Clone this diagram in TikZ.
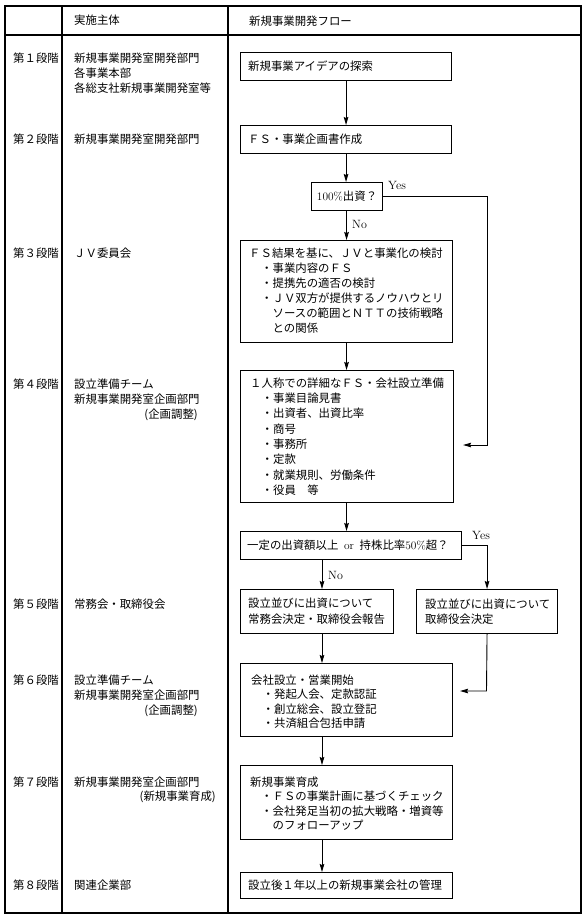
\documentclass[tikz,border=0pt]{standalone}
\usepackage{fontspec}
\newfontfamily\jp{Noto Sans CJK JP}
\usetikzlibrary{arrows.meta}
\begin{document}
\begin{tikzpicture}[x=1pt,y=-1pt,
  every node/.style={font=\jp\fontsize{11.4}{15}\selectfont, inner sep=0pt},
  box/.style={draw, line width=1.1pt, anchor=north west, inner sep=0pt},
  txt/.style={anchor=west},
  rtxt/.style={anchor=east},
  lbl/.style={anchor=west, font=\rmfamily\fontsize{12}{14}\selectfont},
  conn/.style={line width=0.9pt},
  arr/.style={conn, -{Stealth[length=8pt,width=4.6pt,inset=1pt]}},
  gridline/.style={line width=1.3pt}]
\useasboundingbox (0,0) rectangle (587,922);

% table grid
\draw[gridline, line width=1.5pt] (5,6) rectangle (581,913);
\draw[gridline] (5,35) -- (581,35);
\draw[gridline] (62,6) -- (62,913);
\draw[gridline] (228,6) -- (228,913);

% header
\node[txt] (h1) at (74,20) {実施主体};
\node[txt] (h2) at (249,21) {新規事業開発フロー};

% stage column
\node[txt] (s1) at (13,58) {第１段階};
\node[txt] (s2) at (13,139) {第２段階};
\node[txt] (s3) at (13,253) {第３段階};
\node[txt] (s4) at (13,384) {第４段階};
\node[txt] (s5) at (13,604) {第５段階};
\node[txt] (s6) at (13,680) {第６段階};
\node[txt] (s7) at (13,782) {第７段階};
\node[txt] (s8) at (13,885) {第８段階};

% actor column
\node[txt] (a1a) at (74,58) {新規事業開発室開発部門};
\node[txt] (a1b) at (74,73) {各事業本部};
\node[txt] (a1c) at (74,88) {各総支社新規事業開発室等};
\node[txt] (a2) at (74,139) {新規事業開発室開発部門};
\node[txt] (a3) at (74,253) {ＪＶ委員会};
\node[txt] (a4a) at (74,384) {設立準備チーム};
\node[txt] (a4b) at (74,399.5) {新規事業開発室企画部門};
\node[rtxt] (a4c) at (198,415) {(企画調整)};
\node[txt] (a5) at (74,604) {常務会・取締役会};
\node[txt] (a6a) at (74,680) {設立準備チーム};
\node[txt] (a6b) at (74,695.5) {新規事業開発室企画部門};
\node[rtxt] (a6c) at (198,711) {(企画調整)};
\node[txt] (a7a) at (74,782) {新規事業開発室企画部門};
\node[rtxt] (a7b) at (216,797) {(新規事業育成)};
\node[txt] (a8) at (74,885) {関連企業部};

% flow boxes (frames)
\node[box, minimum width=211pt, minimum height=28pt] (b1) at (240,52) {};
\node[box, minimum width=211pt, minimum height=28pt] (b2) at (240,125) {};
\node[box, minimum width=71pt, minimum height=28pt] (d1) at (311,182) {};
\node[box, minimum width=212pt, minimum height=102pt] (b3) at (240,240) {};
\node[box, minimum width=213pt, minimum height=132pt] (b4) at (240,370) {};
\node[box, minimum width=221pt, minimum height=28pt] (d2) at (240,531) {};
\node[box, minimum width=153pt, minimum height=44pt] (b5a) at (240,589) {};
\node[box, minimum width=141pt, minimum height=44pt] (b5b) at (416,589) {};
\node[box, minimum width=212pt, minimum height=73pt] (b6) at (240,663) {};
\node[box, minimum width=212pt, minimum height=74pt] (b7) at (240,765) {};
\node[box, minimum width=212pt, minimum height=26pt] (b8) at (240,872) {};

% flow box texts
\node[txt] (t1) at (248,66) {新規事業アイデアの探索};
\node[txt] (t2) at (248,139) {ＦＳ・事業企画書作成};
\node[anchor=center] (td1) at (d1.center) {{\rmfamily 100\%}出資？};
\node[txt] (t3a) at (249,253) {ＦＳ結果を基に、ＪＶと事業化の検討};
\node[txt] (t3b) at (261,268) {・事業内容のＦＳ};
\node[txt] (t3c) at (261,283) {・提携先の適否の検討};
\node[txt] (t3d) at (261,298) {・ＪＶ双方が提供するノウハウとリ};
\node[txt] (t3e) at (272.5,313) {ソースの範囲とＮＴＴの技術戦略};
\node[txt] (t3f) at (272.5,328) {との関係};
\node[txt] (t4a) at (250,383) {１人称での詳細なＦＳ・会社設立準備};
\node[txt] (t4b) at (261.5,398.3) {・事業目論見書};
\node[txt] (t4c) at (261.5,413.6) {・出資者、出資比率};
\node[txt] (t4d) at (261.5,428.9) {・商号};
\node[txt] (t4e) at (261.5,444.2) {・事務所};
\node[txt] (t4f) at (261.5,459.5) {・定款};
\node[txt] (t4g) at (261.5,474.8) {・就業規則、労働条件};
\node[txt] (t4h) at (261.5,490.1) {・役員　等};
\node[txt] (td2) at (247,545) {一定の出資額以上\hspace{5.7pt}{\rmfamily or}\hspace{5.7pt}持株比率{\rmfamily 50\%}超？};
\node[txt] (t5a1) at (248,603.5) {設立並びに出資について};
\node[txt] (t5a2) at (248,619) {常務会決定・取締役会報告};
\node[txt] (t5b1) at (425,604) {設立並びに出資について};
\node[txt] (t5b2) at (425,619.5) {取締役会決定};
\node[txt] (t6a) at (251,680) {会社設立・営業開始};
\node[txt] (t6b) at (262.5,694.5) {・発起人会、定款認証};
\node[txt] (t6c) at (262.5,709) {・創立総会、設立登記};
\node[txt] (t6d) at (262.5,723.5) {・共済組合包括申請};
\node[txt] (t7a) at (250,782) {新規事業育成};
\node[txt] (t7b) at (261,796.5) {・ＦＳの事業計画に基づくチェック};
\node[txt] (t7c) at (261,811) {・会社発足当初の拡大戦略・増資等};
\node[txt] (t7d) at (272.5,825.5) {のフォローアップ};
\node[txt] (t8) at (248,885) {設立後１年以上の新規事業会社の管理};

% helper coordinates
\coordinate (lx) at (322,0);
\coordinate (r1) at (487,445);
\coordinate (r2) at (486.5,691);

% connectors upper
\draw[arr] (b1.south) -- (b2.north);
\draw[arr] (b2.south) -- (b2.south |- d1.north);
\draw[arr] (d1.south -| b3.north) -- (b3.north);
\draw[arr] (b3.south) -- (b3.south |- b4.north);
\draw[arr] (b4.south -| b3.south) -- (b3.south |- d2.north);
\draw[arr, shorten >=9pt] (d1.east) -| (r1) -- (r1 -| b4.east);
\node[lbl] (yes1) at (388,185) {Yes};
\node[lbl] (no1) at (352,224) {No};

% connectors lower
\draw[arr] (lx |- d2.south) -- (lx |- b5a.north);
\draw[arr] (d2.east) -| (b5b.north);
\node[lbl] (yes2) at (472,535) {Yes};
\node[lbl] (no2) at (328,575) {No};
\draw[arr] (lx |- b5a.south) -- (lx |- b6.north);
\draw[arr, shorten >=7pt] (b5b.south) -- (r2) -- (r2 -| b6.east);
\draw[arr] (lx |- b6.south) -- (lx |- b7.north);
\draw[arr] (lx |- b7.south) -- (lx |- b8.north);
\end{tikzpicture}
\end{document}
